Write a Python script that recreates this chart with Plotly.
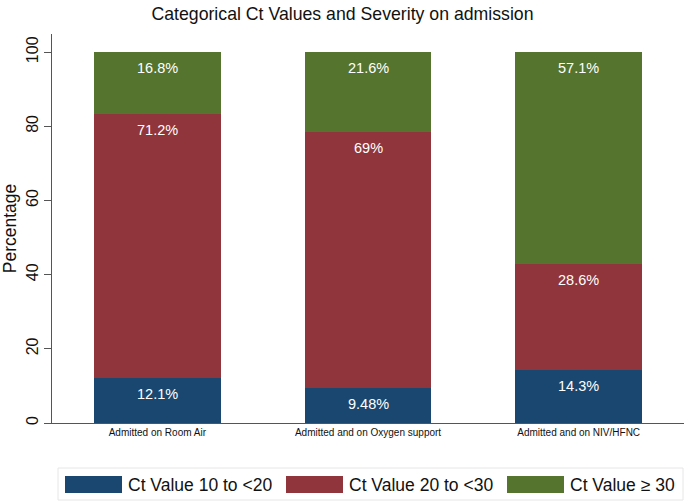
import plotly.graph_objects as go

categories = ["Admitted on Room Air", "Admitted and on Oxygen support", "Admitted and on NIV/HFNC"]
series_names = ["Ct Value 10 to <20", "Ct Value 20 to <30", "Ct Value \u2265 30"]
ct_10_20 = [12.1, 9.48, 14.3]
ct_20_30 = [71.2, 69, 28.6]
ct_30_up = [16.8, 21.6, 57.1]
y_ticks = [0, 20, 40, 60, 80, 100]

series_values = [ct_10_20, ct_20_30, ct_30_up]
colors = ["#1a476f", "#90353b", "#55752f"]
FONT = "Liberation Sans, Arial, Helvetica, sans-serif"

fig = go.Figure()
for name, vals, col in zip(series_names, series_values, colors):
    fig.add_trace(go.Bar(x=categories, y=vals, name=name, marker=dict(color=col, line=dict(width=0)),
                         showlegend=False, hoverinfo="y+name"))

# value labels near the top of each segment
annotations = []
cum = [0.0] * len(categories)
for vals in series_values:
    for j, v in enumerate(vals):
        cum[j] += v
        annotations.append(dict(x=categories[j], y=cum[j], xref="x", yref="y", text=f"{v:g}%",
                                showarrow=False, yanchor="middle", yshift=-16,
                                font=dict(family=FONT, size=14.5, color="white")))

# custom legend (box, wide swatches, labels)
L, R, T, B = 52, 684, 34, 423
W, H = R - L, B - T
def px(x):
    return (x - L) / W
def py(y):
    return (B - y) / H

shapes = [dict(type="rect", xref="paper", yref="paper", x0=px(58), x1=px(683), y0=py(468), y1=py(500),
               line=dict(color="#e6e6e6", width=1), fillcolor="rgba(0,0,0,0)")]
for i, (name, col) in enumerate(zip(series_names, colors)):
    x0 = 65 + 221 * i
    shapes.append(dict(type="rect", xref="paper", yref="paper", x0=px(x0), x1=px(x0 + 57),
                       y0=py(493), y1=py(476), fillcolor=col, line=dict(width=0)))
    annotations.append(dict(x=px(x0 + 61), y=py(484.5), xref="paper", yref="paper", text=name,
                            showarrow=False, xanchor="left", yanchor="middle",
                            font=dict(family=FONT, size=17.5, color="#111")))

fig.update_layout(
    barmode="stack",
    bargap=0.4,
    width=685, height=503,
    margin=dict(l=L, r=685 - R, t=T, b=503 - B),
    paper_bgcolor="white", plot_bgcolor="white",
    font=dict(family=FONT, color="#111"),
    title=dict(text="Categorical Ct Values and Severity on admission", x=0.5, xanchor="center",
               xref="container", yref="container", y=1 - 14 / 503, yanchor="middle",
               font=dict(family=FONT, size=17.7, color="#111")),
    xaxis=dict(showline=True, linecolor="#555", linewidth=1, showgrid=False, ticks="",
               tickfont=dict(family=FONT, size=10, color="#111"), zeroline=False),
    yaxis=dict(range=[0, 104.9], tickvals=y_ticks, showline=True, linecolor="#555", linewidth=1,
               showgrid=False, zeroline=False, ticks="outside", ticklen=7, tickcolor="#555",
               tickangle=-90, tickfont=dict(family=FONT, size=16, color="#111"),
               title=dict(text="Percentage", font=dict(family=FONT, size=17.5, color="#111"), standoff=8)),
    shapes=shapes,
    annotations=annotations,
)

fig.write_html("out.html", config={"displayModeBar": False},
               post_script="document.body.style.margin='0px';")
